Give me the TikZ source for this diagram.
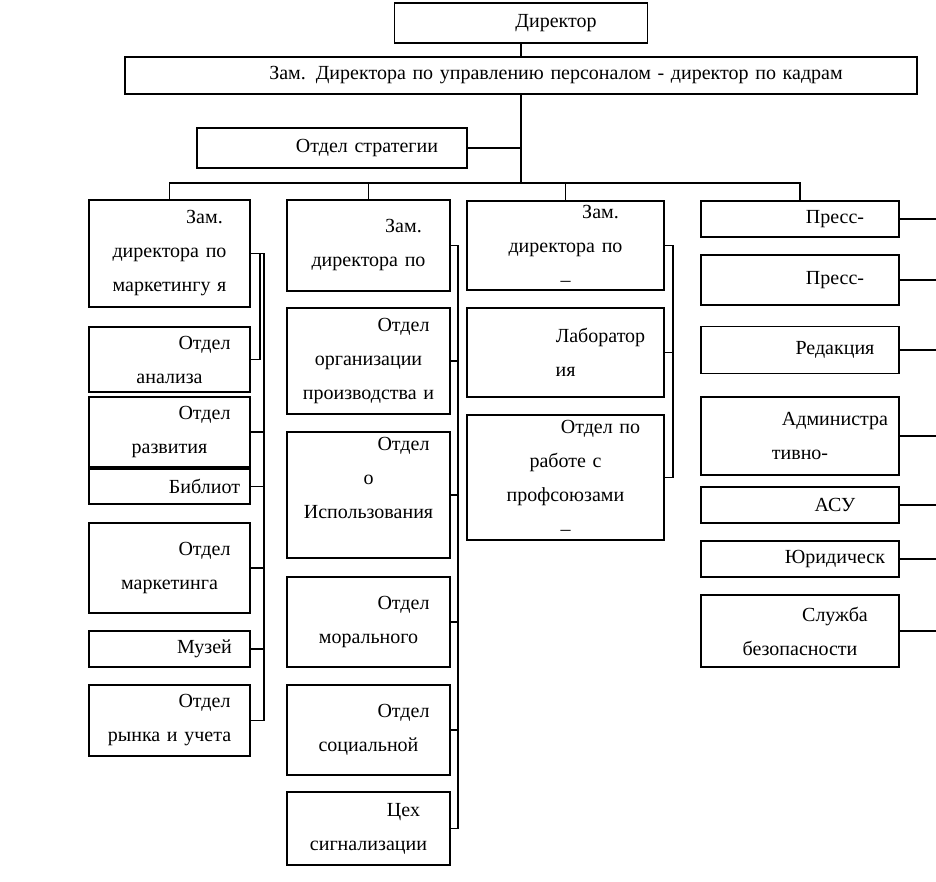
\documentclass[tikz,border=0pt]{standalone}
\usepackage{fontspec}
\setmainfont{Liberation Serif}
\newcommand\firstind{\hspace*{70pt}}
\begin{document}
\begin{tikzpicture}[x=1pt,y=-1pt,
  every node/.style={font=\fontsize{20}{34}\selectfont},
  bx/.style 2 args={draw, line width=1.8pt, rectangle, inner sep=0pt, align=center,
    minimum width=#1, text width=#1, minimum height=#2},
  ln/.style={line width=1.8pt}]
\fill[white] (0,0) rectangle (936,882);
\useasboundingbox (0,0) rectangle (936,882);

% top
\node[bx={253pt}{40pt}] (dir) at (521,23) {\firstind Директор};
\node[bx={792pt}{37pt}] (zam) at (521,75.5) {\firstind Зам. Директора по управлению персоналом - директор по кадрам};
\node[bx={270pt}{40pt}] (strat) at (332,148) {\firstind Отдел стратегии};

% column 1
\node[bx={161pt}{107pt}] (c1) at (169.5,253.5) {\firstind Зам.\\директора по\\маркетингу я};
\node[bx={161pt}{65pt}] (a2) at (169.5,359.5) {\firstind Отдел\\анализа};
\node[bx={161pt}{70pt}] (a3) at (169.5,432) {\firstind Отдел\\развития};
\node[bx={161pt}{35pt}] (a4) at (169.5,486.5) {\firstind Библиот};
\node[bx={161pt}{90pt}] (a5) at (169.5,568) {\firstind Отдел\\маркетинга};
\node[bx={161pt}{36pt}] (a6) at (169.5,649) {\firstind Музей};
\node[bx={161pt}{71pt}] (a7) at (169.5,720.5) {\firstind Отдел\\рынка и учета};

% column 2
\node[bx={163pt}{91pt}] (c2) at (368.5,245.5) {\firstind Зам.\\директора по};
\node[bx={163pt}{106pt}] (b2) at (368.5,361) {\firstind Отдел\\организации\\производства и};
\node[bx={163pt}{126pt}] (b3) at (368.5,495) {\firstind Отдел\\о\\Использования\\\mbox{}};
\node[bx={163pt}{90pt}] (b4) at (368.5,622) {\firstind Отдел\\морального};
\node[bx={163pt}{90pt}] (b5) at (368.5,730) {\firstind Отдел\\социальной};
\node[bx={163pt}{73pt}] (b6) at (368.5,828.5) {\firstind Цех\\сигнализации};

% column 3
\node[bx={197pt}{89pt}] (c3) at (565.5,245.5) {\firstind Зам.\\директора по\\–};
\node[bx={197pt}{89pt}] (d2) at (565.5,352.5) {\firstind Лаборатор\\ия};
\node[bx={197pt}{125pt}] (d3) at (565.5,477.5) {\firstind Отдел по\\работе с\\профсоюзами\\–};

% column 4
\node[bx={198pt}{36pt}] (c4) at (800,219) {\firstind Пресс-};
\node[bx={198pt}{50pt}] (e2) at (800,280) {\firstind Пресс-};
\node[bx={198pt}{47pt}] (e3) at (800,350) {\firstind Редакция};
\node[bx={198pt}{78pt}] (e4) at (800,436) {\firstind Администра\\тивно-};
\node[bx={198pt}{36pt}] (e5) at (800,505) {\firstind АСУ};
\node[bx={198pt}{36pt}] (e6) at (800,559) {\firstind Юридическ};
\node[bx={198pt}{72pt}] (e7) at (800,631) {\firstind Служба\\безопасности};

% connectors
\coordinate (bus) at (521,183);
\coordinate (o1) at (264,0);
\coordinate (o2) at (458,0);
\coordinate (o3) at (673,0);
\coordinate (o4) at (936,0);

\draw[ln] (dir.south) -- (zam.north);
\draw[ln] (zam.south) -- (bus);
\draw[ln] (strat.east) -- (strat.east -| bus);
\draw[ln] (c1.north) |- (bus) -| (c4.north);
\draw[ln] (c2.north) -- (c2.north |- bus);
\draw[ln] (c3.north) -- (c3.north |- bus);

\draw[ln] (c1.east) -- ++(9,0) |- (a2.east);
\draw[ln] (c1.east) -- (c1.east -| o1) |- (a7.east);
\foreach \n in {a3,a4,a5,a6} \draw[ln] (\n.east) -- (\n.east -| o1);

\draw[ln] (c2.east) -- (c2.east -| o2) |- (b6.east);
\foreach \n in {b2,b3,b4,b5} \draw[ln] (\n.east) -- (\n.east -| o2);

\draw[ln] (c3.east) -- (c3.east -| o3) |- (d3.east);
\draw[ln] (d2.east) -- (d2.east -| o3);

\foreach \n in {c4,e2,e3,e4,e5,e6,e7} \draw[ln] (\n.east) -- (\n.east -| o4);
\end{tikzpicture}
\end{document}
